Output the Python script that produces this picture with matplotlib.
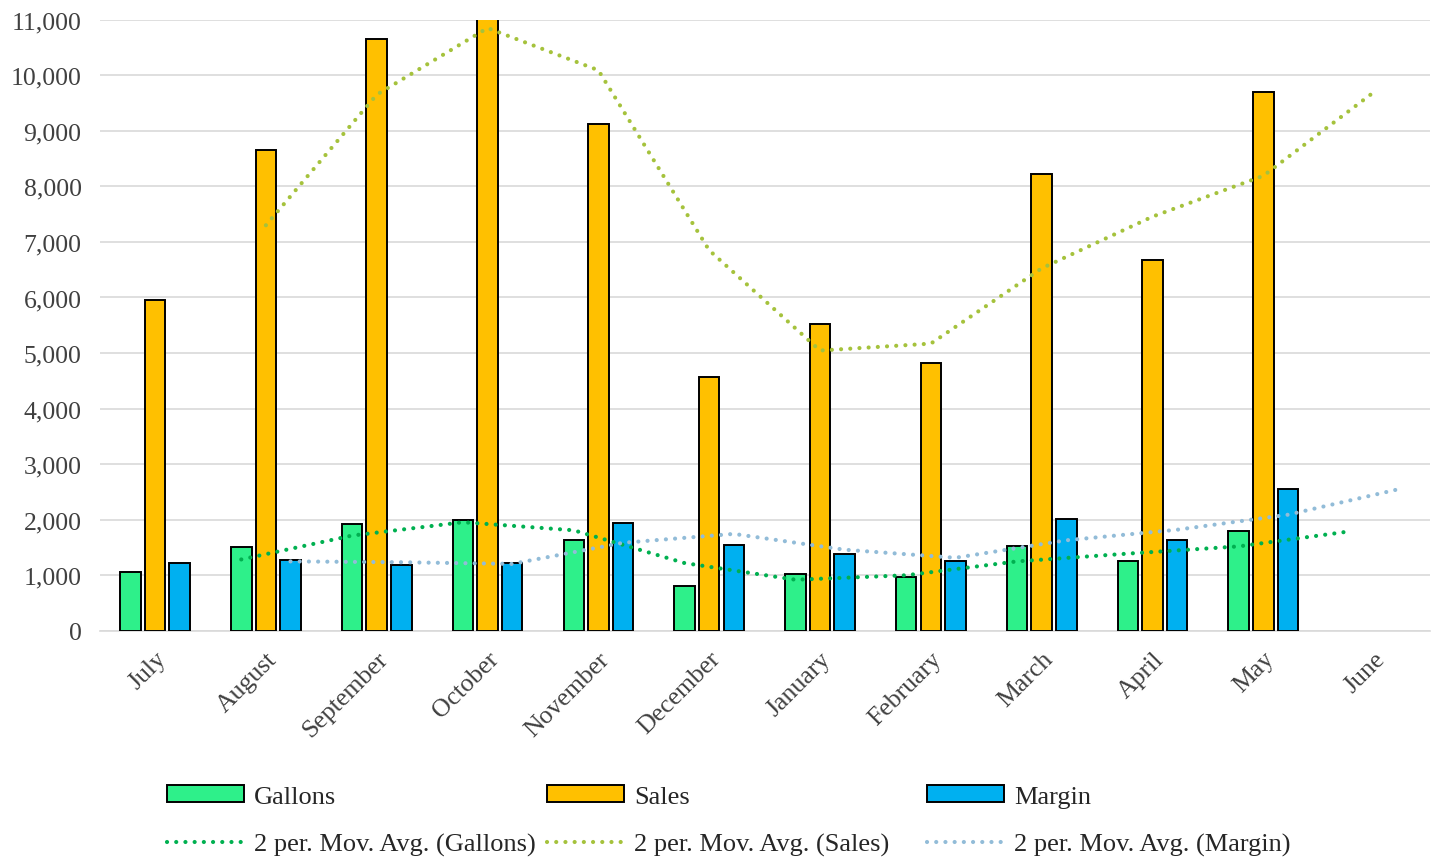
import numpy as np
import pandas as pd
import matplotlib
matplotlib.use("Agg")
import matplotlib.pyplot as plt
from matplotlib.patches import Patch
from matplotlib.lines import Line2D
from matplotlib.ticker import FuncFormatter

months = ["July", "August", "September", "October", "November", "December",
          "January", "February", "March", "April", "May", "June"]
gallons = [1060, 1510, 1920, 1990, 1630, 810, 1030, 970, 1530, 1250, 1790, np.nan]
sales = [5950, 8650, 10650, 11050, 9130, 4570, 5520, 4820, 8230, 6680, 9700, np.nan]
margin = [1220, 1280, 1190, 1220, 1950, 1540, 1380, 1250, 2010, 1630, 2550, np.nan]

bar_colors = ["#2EF08A", "#FFC000", "#00B0F0"]
ma_colors = ["#00B050", "#A5C23C", "#92BCD8"]
names = ["Gallons", "Sales", "Margin"]

plt.rcParams['font.family'] = ['Liberation Serif', 'DejaVu Serif']

W, H = 1444, 862
fig = plt.figure(figsize=(W / 100, H / 100), dpi=100)
ax = fig.add_axes([0.069, 0.267, 0.921, 0.709])

x = np.arange(len(months))
width = 0.185
offsets = [-0.222, 0.0, 0.222]
dots = (0, (0.01, 2.2))

for series, off, col in zip([gallons, sales, margin], offsets, bar_colors):
    ax.bar(x + off, series, width, color=col, edgecolor='black', linewidth=1.4, zorder=3)

# 2-period moving average trendlines (Excel style: starts at 2nd point, blanks skipped)
for series, off, col in zip([gallons, sales, margin], offsets, ma_colors):
    ma = pd.Series(series).rolling(2, min_periods=1).mean().values
    ax.plot(x[1:] + off, ma[1:], linestyle=dots, color=col,
            linewidth=3, zorder=4, dash_capstyle='round')

ax.set_xlim(-0.5, len(months) - 0.5)
ax.set_ylim(0, 11000)
ax.set_yticks(np.arange(0, 11001, 1000))
ax.yaxis.set_major_formatter(FuncFormatter(lambda v, p: f"{int(v):,}"))
ax.set_xticks(x)
ax.set_xticklabels(months, rotation=45, ha='right', rotation_mode='anchor')
ax.tick_params(axis='both', length=0, labelsize=18.5, colors='#404040')
ax.tick_params(axis='x', pad=12)
ax.tick_params(axis='y', pad=13)
ax.grid(axis='y', color='#D9D9D9', linewidth=1.2, zorder=0)
for s in ['top', 'right', 'left']:
    ax.spines[s].set_visible(False)
ax.spines['bottom'].set_color('#D9D9D9')
ax.spines['bottom'].set_linewidth(1.2)

# legend: one block per series, placed at fixed column positions
col_x = [167, 547, 927]
for n, bc, mc, cx in zip(names, bar_colors, ma_colors, col_x):
    hs = [Patch(facecolor=bc, edgecolor='black', linewidth=1.4, label=n),
          Line2D([], [], color=mc, linestyle=dots, linewidth=3,
                 dash_capstyle='round', label=f"2 per. Mov. Avg. ({n})")]
    fig.legend(handles=hs, loc='upper left', bbox_to_anchor=(cx / W, 1 - 786 / H),
               frameon=False, fontsize=19, handlelength=2.9, handleheight=0.6,
               labelspacing=0.95, handletextpad=0.4, borderpad=0, borderaxespad=0,
               labelcolor='#262626')

fig.savefig("out.png", dpi=100, facecolor='white')
